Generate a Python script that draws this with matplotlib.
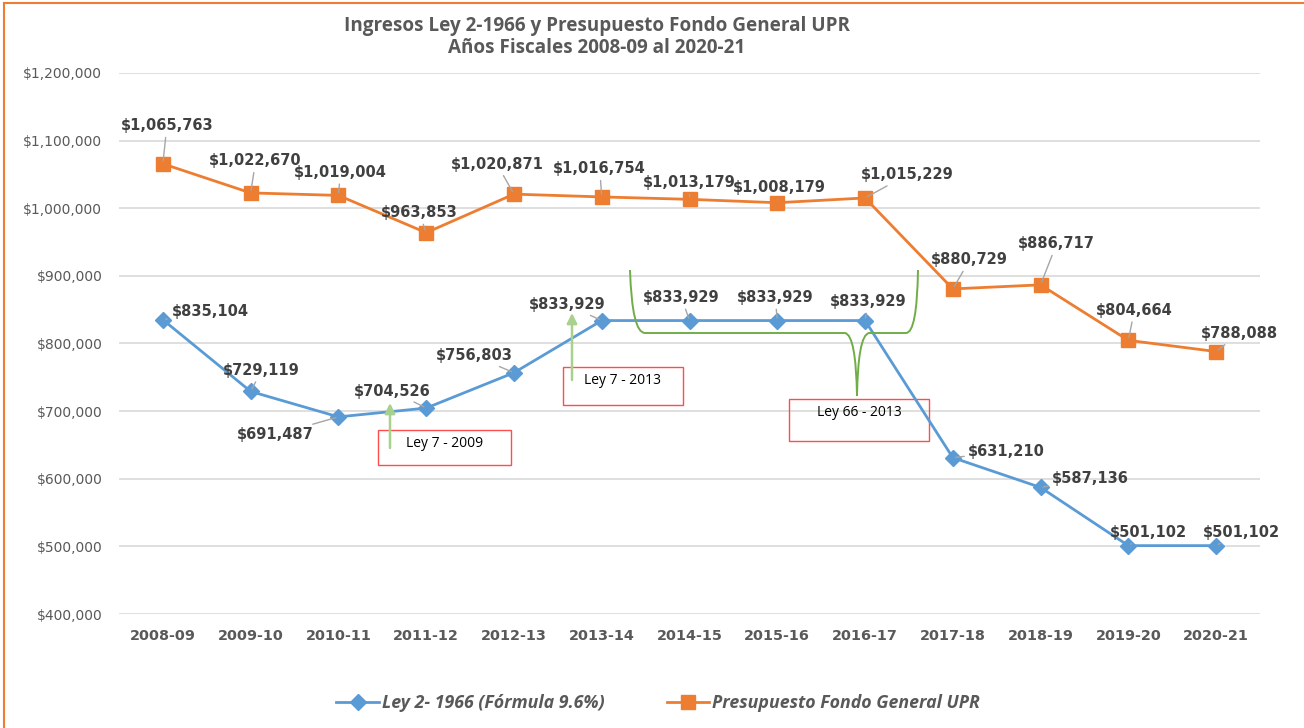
import matplotlib
matplotlib.use("Agg")
import matplotlib.pyplot as plt
from matplotlib.path import Path
from matplotlib.patches import PathPatch, Rectangle
from matplotlib.lines import Line2D

years = ["2008-09", "2009-10", "2010-11", "2011-12", "2012-13", "2013-14", "2014-15",
         "2015-16", "2016-17", "2017-18", "2018-19", "2019-20", "2020-21"]
ley2 = [835104, 729119, 691487, 704526, 756803, 833929, 833929, 833929, 833929,
        631210, 587136, 501102, 501102]
presupuesto = [1065763, 1022670, 1019004, 963853, 1020871, 1016754, 1013179, 1008179,
               1015229, 880729, 886717, 804664, 788088]

ley2_name = "Ley 2- 1966 (Fórmula 9.6%)"
pres_name = "Presupuesto Fondo General UPR"
title = "Ingresos Ley 2-1966 y Presupuesto Fondo General UPR\nAños Fiscales 2008-09 al 2020-21"

# label offsets (pixels, x right / y down)
ley2_off = [(47, -8), (11, -21), (-63, 18), (-34, -17), (-40, -17), (-35, -16), (-8, -23),
            (-2, -23), (3, -19), (54, -6), (50, -9), (20, -13), (25, -13)]
pres_off = [(4, -38), (5, -32), (2, -23), (-7, -20), (-17, -30), (-2, -28), (0, -17),
            (2, -15), (42, -23), (17, -29), (16, -41), (6, -30), (23, -18)]

BLUE = "#5B9BD5"
ORANGE = "#ED7D31"
TXT = "#404040"
GRAY = "#595959"

W, H = 1304, 728
fig = plt.figure(figsize=(W / 100, H / 100), dpi=100)
L, R, T, B = 119, 1260, 73, 614
ax = fig.add_axes([L / W, 1 - B / H, (R - L) / W, (B - T) / H])

x = list(range(len(years)))
ax.plot(x, ley2, color=BLUE, lw=2.0, marker="D", ms=8.5, label=ley2_name, zorder=4)
ax.plot(x, presupuesto, color=ORANGE, lw=2.0, marker="s", ms=9.5, label=pres_name, zorder=4)

ax.set_xlim(-0.5, len(years) - 0.5)
ax.set_ylim(400000, 1200000)
ax.set_yticks(range(400000, 1200001, 100000))
ax.set_yticklabels([f"${v:,.0f}" for v in range(400000, 1200001, 100000)],
                   fontfamily="DejaVu Sans", fontsize=10, color=GRAY)
ax.set_xticks(x)
ax.set_xticklabels(years, fontfamily="DejaVu Sans", fontsize=10.4, fontweight="bold", color=GRAY)
ax.tick_params(axis="both", length=0)
ax.tick_params(axis="y", pad=12)
ax.tick_params(axis="x", pad=11)
ax.grid(axis="y", color="#D9D9D9", lw=1.2)
ax.set_axisbelow(True)
for s in ax.spines.values():
    s.set_visible(False)


def annotate_series(vals, offs):
    for i, (v, (dx, dy)) in enumerate(zip(vals, offs)):
        ax.annotate(f"${v:,.0f}", xy=(i, v), xytext=(dx, -dy), textcoords="offset pixels",
                    ha="center", va="center", fontsize=10.5, fontweight="bold",
                    color=TXT, fontfamily="DejaVu Sans", zorder=6,
                    arrowprops=dict(arrowstyle="-", color="#A6A6A6", lw=1.0,
                                    shrinkA=1, shrinkB=2))


annotate_series(ley2, ley2_off)
annotate_series(presupuesto, pres_off)


def p2d(px, py):
    xd = -0.5 + (px - L) / (R - L) * len(years)
    yd = 1200000 - (py - T) / (B - T) * 800000
    return xd, yd


# red boxes with text
for (x0, y0, x1, y1, txt, ty) in [(378, 430, 511, 465, "Ley 7 - 2009", 444),
                                  (563, 367, 683, 405, "Ley 7 - 2013", 381),
                                  (789, 399, 929, 441, "Ley 66 - 2013", 413)]:
    a = p2d(x0, y1)
    b = p2d(x1, y0)
    ax.add_patch(Rectangle(a, b[0] - a[0], b[1] - a[1], fill=False,
                           edgecolor="#FF4D4D", lw=1.0, zorder=3))
    tx, tyd = p2d((x0 + x1) / 2, ty)
    ax.text(tx, tyd, txt, ha="center", va="center", fontsize=10, fontfamily="Open Sans",
            color="black", zorder=6)

# green arrows
for (px, py0, py1) in [(390, 448, 403), (572, 380, 313)]:
    ax.annotate("", xy=p2d(px, py1), xytext=p2d(px, py0),
                arrowprops=dict(arrowstyle="-|>,head_width=0.3,head_length=0.6",
                                color="#A9D18E", lw=1.8, shrinkA=0, shrinkB=0), zorder=6)

# curly brace
pts = [(630, 270), (632, 333), (645, 333), (845, 333), (856, 335), (857, 396),
       (858, 335), (869, 333), (906, 333), (917, 333), (918, 270)]
codes = [Path.MOVETO, Path.CURVE3, Path.CURVE3, Path.LINETO, Path.CURVE3, Path.CURVE3,
         Path.CURVE3, Path.CURVE3, Path.LINETO, Path.CURVE3, Path.CURVE3]
ax.add_patch(PathPatch(Path([p2d(*p) for p in pts], codes), fill=False,
                       edgecolor="#70AD47", lw=1.4, zorder=5))

fig.text(597 / W, 1 - 37 / H, title, ha="center", va="center", fontsize=13.6,
         fontweight="bold", color=GRAY, fontfamily="Open Sans", linespacing=1.1)

leg = fig.legend(loc="center", bbox_to_anchor=(658 / W, 1 - 703 / H), ncol=2, frameon=False,
                 prop=dict(family="Open Sans", style="italic", weight="bold", size=12.8),
                 handlelength=2.4, columnspacing=3.5, handletextpad=0.15)
for t in leg.get_texts():
    t.set_color(GRAY)

# orange frame (left and top)
fig.add_artist(Line2D([4 / W, 4 / W], [0, 1 - 3 / H], color=ORANGE, lw=1.5,
                      transform=fig.transFigure))
fig.add_artist(Line2D([4 / W, 1], [1 - 3 / H, 1 - 3 / H], color=ORANGE, lw=1.5,
                      transform=fig.transFigure))

fig.savefig("out.png", dpi=100, facecolor="white")
